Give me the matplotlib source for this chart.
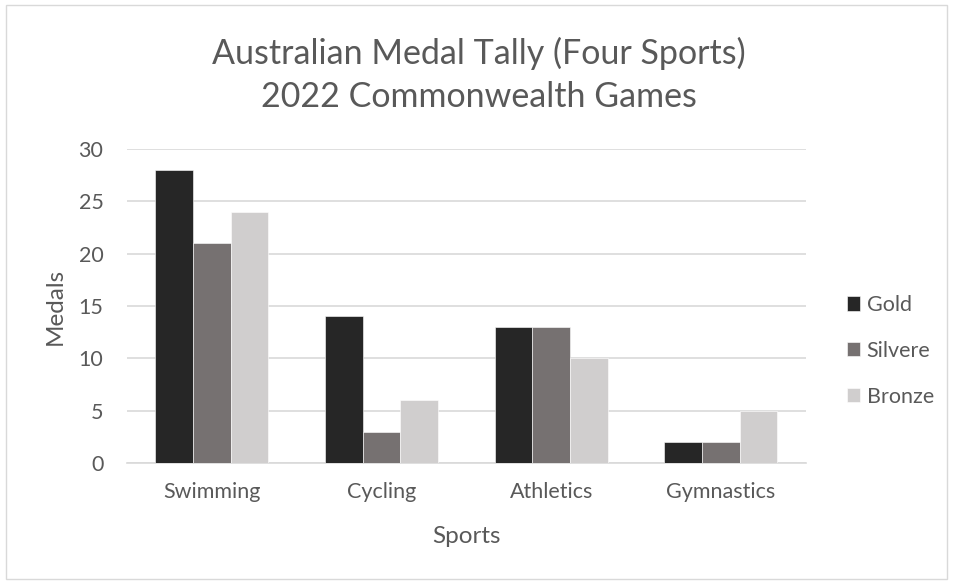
import matplotlib.pyplot as plt
import numpy as np
from matplotlib.patches import Rectangle

sports = ["Swimming", "Cycling", "Athletics", "Gymnastics"]
gold = [28, 14, 13, 2]
silver = [21, 3, 13, 2]
bronze = [24, 6, 10, 5]
series = ["Gold", "Silvere", "Bronze"]
colors = ["#262626", "#767171", "#d0cece"]

plt.rcParams['font.family'] = ['Lato', 'DejaVu Sans']
text_col = "#595959"

fig = plt.figure(figsize=(9.57, 5.81), dpi=100)
ax = fig.add_axes([0.1327, 0.2031, 0.842 - 0.1327, 0.7435 - 0.2031])

x = np.arange(len(sports))
w = 0.222
for i, (vals, name) in enumerate(zip([gold, silver, bronze], series)):
    ax.bar(x + (i - 1) * w, vals, w, color=colors[i], label=name,
           edgecolor="white", linewidth=0.4, zorder=3)

ax.set_xlim(-0.5, 3.5)
ax.set_ylim(0, 30)
ax.set_yticks(range(0, 31, 5))
ax.set_xticks(x)
ax.set_xticklabels(sports)
ax.grid(axis="y", color="#d9d9d9", linewidth=1.2, zorder=0)
for s in ["top", "right", "left"]:
    ax.spines[s].set_visible(False)
ax.spines["bottom"].set_color("#d9d9d9")
ax.spines["bottom"].set_linewidth(1.2)
ax.tick_params(length=0, labelsize=15.5, colors=text_col)
ax.tick_params(axis="y", pad=17)
ax.tick_params(axis="x", pad=14)

ax.set_xlabel("Sports", fontsize=17.5, color=text_col, labelpad=17)
ax.set_ylabel("Medals", fontsize=17.5, color=text_col, labelpad=9)

fig.text(0.5, 1 - 75 / 581,
         "Australian Medal Tally (Four Sports)\n2022 Commonwealth Games",
         fontsize=24.5, color=text_col, ha="center", va="center",
         linespacing=1.45)

ax.legend(loc="center left", bbox_to_anchor=(1.06, 0.357), frameon=False,
          fontsize=15.5, labelcolor=text_col, handlelength=0.64,
          handleheight=0.64, handletextpad=0.3, labelspacing=1.2,
          borderaxespad=0, borderpad=0)

fig.patches.append(Rectangle((6 / 957, 1 - 579 / 581), 941 / 957, 574 / 581,
                             transform=fig.transFigure, fill=False,
                             edgecolor="#d9d9d9", linewidth=1))

plt.savefig("out.png")
